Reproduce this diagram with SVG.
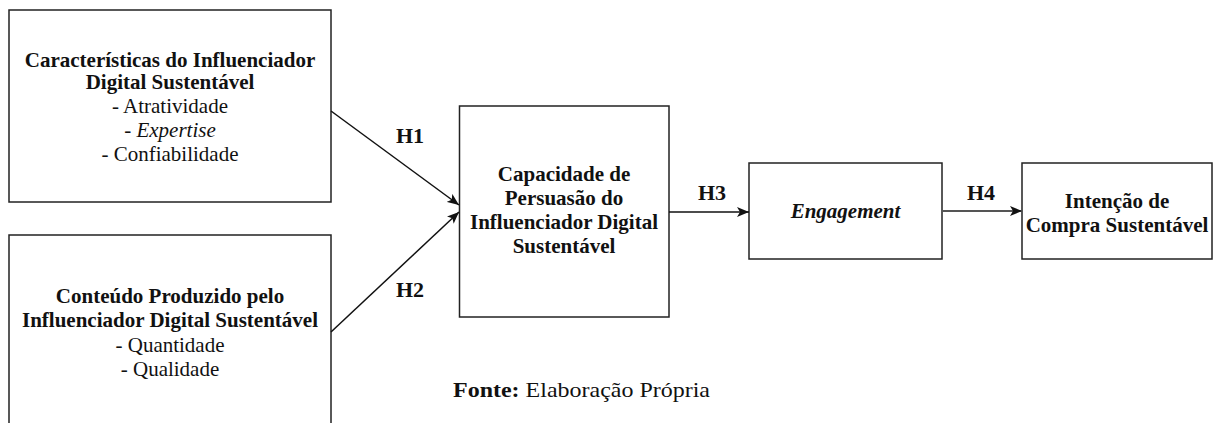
<svg xmlns="http://www.w3.org/2000/svg" width="1215" height="423" viewBox="0 0 1215 423">
<style>
.box{fill:#fff;stroke:#222;stroke-width:1.5}
text{font-family:"Liberation Serif","Times New Roman",serif;fill:#111;text-anchor:middle}
.t{font-size:21px}
.b{font-weight:bold}
.i{font-style:italic}
.lbl{font-size:22px;font-weight:bold}
.edge{stroke:#111;stroke-width:1.5;fill:none;marker-end:url(#ah)}
</style>
<defs>
<marker id="ah" viewBox="0 0 12 10" refX="12" refY="5" markerWidth="12" markerHeight="10" markerUnits="userSpaceOnUse" orient="auto">
<path d="M0,0 L12,5 L0,10 L3,5 Z" fill="#111"/>
</marker>
</defs>
<g id="n1">
<rect class="box" x="9" y="10" width="322" height="192"/>
<text class="t b" x="170" y="67">Características do Influenciador</text>
<text class="t b" x="170" y="89">Digital Sustentável</text>
<text class="t" x="170" y="113">- Atratividade</text>
<text class="t" x="170" y="137">- <tspan class="i">Expertise</tspan></text>
<text class="t" x="170" y="161">- Confiabilidade</text>
</g>
<g id="n2">
<rect class="box" x="9" y="235" width="322" height="200"/>
<text class="t b" x="170" y="303">Conteúdo Produzido pelo</text>
<text class="t b" x="170" y="327">Influenciador Digital Sustentável</text>
<text class="t" x="170" y="352">- Quantidade</text>
<text class="t" x="170" y="376">- Qualidade</text>
</g>
<g id="n3">
<rect class="box" x="459.5" y="106" width="209.5" height="211"/>
<text class="t b" x="564" y="181">Capacidade de</text>
<text class="t b" x="564" y="205">Persuasão do</text>
<text class="t b" x="564" y="229">Influenciador Digital</text>
<text class="t b" x="564" y="253">Sustentável</text>
</g>
<g id="n4">
<rect class="box" x="749" y="163" width="193" height="96"/>
<text class="t b i" x="845.5" y="218">Engagement</text>
</g>
<g id="n5">
<rect class="box" x="1022" y="163" width="190" height="96"/>
<text class="t b" x="1117" y="208">Intenção de</text>
<text class="t b" x="1117" y="232">Compra Sustentável</text>
</g>
<g id="edges">
<line class="edge" x1="331" y1="111" x2="459" y2="205"/>
<line class="edge" x1="331" y1="332" x2="459" y2="212"/>
<line class="edge" x1="669" y1="212" x2="749" y2="212"/>
<line class="edge" x1="942" y1="211" x2="1022" y2="211" style="stroke:#555;stroke-width:2.2"/>
<text class="lbl" x="410" y="143">H1</text>
<text class="lbl" x="410" y="297">H2</text>
<text class="lbl" x="712" y="200">H3</text>
<text class="lbl" x="981" y="200">H4</text>
</g>
<text x="453" y="397" textLength="257" lengthAdjust="spacingAndGlyphs" style="font-size:21px;text-anchor:start"><tspan class="b">Fonte:</tspan> Elaboração Própria</text>
</svg>
